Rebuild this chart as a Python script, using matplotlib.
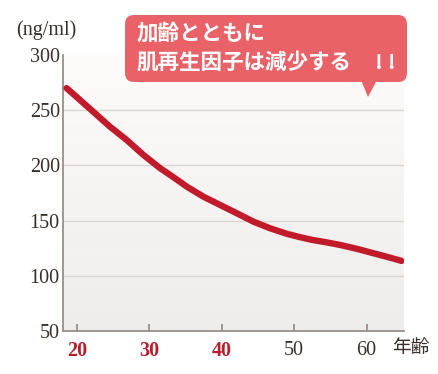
import numpy as np
import matplotlib
matplotlib.use("Agg")
import matplotlib.pyplot as plt
from matplotlib.patches import FancyBboxPatch, Polygon
from matplotlib.colors import LinearSegmentedColormap

# data
ages = [18.6, 20.5, 22.3, 24.6, 26.9, 29.2, 31.5, 33.3, 35.2, 37.5, 39.8,
        42.1, 44.4, 46.7, 49.0, 50.8, 52.5, 54.3, 56.3, 58.6, 60.9, 62.9, 64.8]
levels = [270, 259, 248.5, 235, 223, 209.5, 197.5, 189.5, 180.7, 171.6, 164.1,
          156.6, 149, 143, 138, 135, 132.5, 130.5, 128, 124.5, 120.5, 117, 113.5]

xticks = [20, 30, 40, 50, 60]
xtick_colors = ["#b51f2e", "#b51f2e", "#b51f2e", "#3a2e28", "#3a2e28"]
yticks = [50, 100, 150, 200, 250, 300]

W, H = 438, 374
fig = plt.figure(figsize=(W / 100, H / 100), dpi=100)
fig.patch.set_facecolor("white")

serif = "Liberation Serif"
cjk = ["Noto Sans CJK JP", "DejaVu Sans"]
spine_c = "#9a8f88"
text_c = "#3a2e28"

# plot area in pixels: left 63, right 404, top 55, bottom 331
ax = fig.add_axes([63.3 / W, 1 - 331 / H, (404 - 63.3) / W, (331 - 55) / H])
ax.set_xlim(18.15, 65.15)
ax.set_ylim(50, 300)

# soft vertical gradient background
grad = np.linspace(0, 1, 256).reshape(-1, 1)
cmap = LinearSegmentedColormap.from_list("bg", ["#efedeb", "#f6f4f2", "#fdfcfb"])
ax.imshow(grad, cmap=cmap, aspect="auto", origin="lower",
          extent=[18.15, 65.15, 50, 300], zorder=0)

for v in yticks[1:-1]:
    ax.axhline(v, color="#d9d5d1", lw=1.0, zorder=1)

ax.plot(ages, levels, color="#c11a2a", lw=4.6, solid_capstyle="round",
        solid_joinstyle="round", zorder=3)

for s in ["top", "right"]:
    ax.spines[s].set_visible(False)
for s in ["left", "bottom"]:
    ax.spines[s].set_color(spine_c)
    ax.spines[s].set_linewidth(1.3)

ax.set_yticks(yticks)
ax.set_yticklabels([str(v) for v in yticks], fontfamily=serif, fontsize=14.5, color=text_c)
ax.tick_params(axis="y", length=0, pad=2.5)

ax.set_xticks(xticks)
ax.set_xticklabels([str(v) for v in xticks], fontfamily=serif, fontsize=14.5)
for lab, c in zip(ax.get_xticklabels(), xtick_colors):
    lab.set_color(c)
    if c != text_c:
        lab.set_fontweight("bold")
ax.tick_params(axis="x", direction="in", length=5, width=1.3, color=spine_c, pad=7)

fig.text(411 / W, 1 - 348 / H, "年齢", fontfamily=cjk, fontsize=13.5, color=text_c,
         ha="center", va="center")
fig.text(46 / W, 1 - 30 / H, "(ng/ml)", fontfamily=serif, fontsize=14.5, color=text_c,
         ha="center", va="center")

# speech bubble overlay in pixel space
ov = fig.add_axes([0, 0, 1, 1], zorder=5)
ov.set_xlim(0, W)
ov.set_ylim(H, 0)
ov.axis("off")
ov.patch.set_alpha(0)
bubble_c = "#e86268"
ov.add_patch(FancyBboxPatch((125, 15), 282, 67, boxstyle="round,pad=0,rounding_size=9",
                            fc=bubble_c, ec="none"))
ov.add_patch(Polygon([(361, 80), (377, 80), (368, 97)], closed=True, fc=bubble_c, ec="none"))
ov.text(137, 33, "加齢とともに", fontfamily=cjk, fontsize=15.5, fontweight="bold",
        color="white", ha="left", va="center")
ov.text(137, 62, "肌再生因子は減少する", fontfamily=cjk, fontsize=15.5, fontweight="bold",
        color="white", ha="left", va="center")
ov.text(385, 62, "! !", fontfamily=cjk, fontsize=15.5, fontweight="bold",
        color="white", ha="center", va="center")

fig.savefig("out.png", dpi=100)
